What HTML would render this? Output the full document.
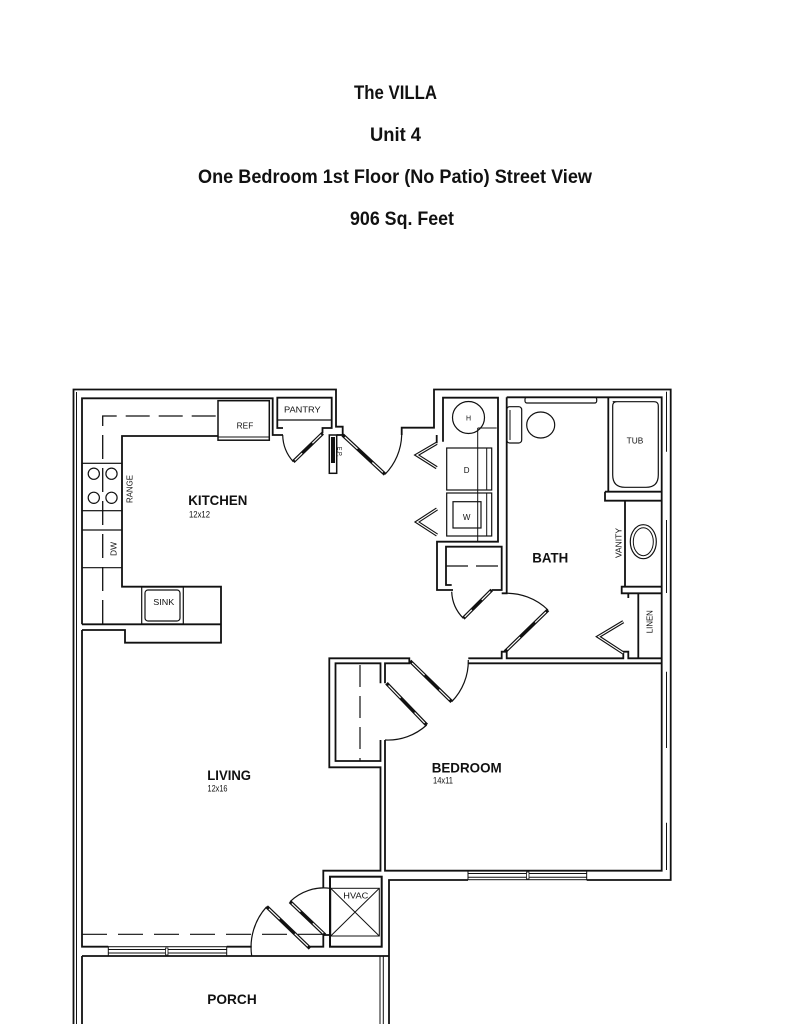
<!DOCTYPE html>
<html><head><meta charset="utf-8"><style>
html,body{margin:0;padding:0;background:#fff;}
svg{display:block;}
text{font-family:"Liberation Sans",sans-serif;fill:#111;}
</style></head><body>
<svg width="791" height="1024" viewBox="0 0 791 1024" xmlns="http://www.w3.org/2000/svg">
<rect width="791" height="1024" fill="#fff"/>
<!-- Titles -->
<text x="354" y="99" font-size="19" font-weight="bold" textLength="83" lengthAdjust="spacingAndGlyphs">The VILLA</text>
<text x="370" y="141" font-size="19" font-weight="bold" textLength="51" lengthAdjust="spacingAndGlyphs">Unit 4</text>
<text x="198" y="183" font-size="19" font-weight="bold" textLength="394" lengthAdjust="spacingAndGlyphs">One Bedroom 1st Floor (No Patio) Street View</text>
<text x="350" y="225" font-size="19" font-weight="bold" textLength="104" lengthAdjust="spacingAndGlyphs">906 Sq. Feet</text>

<g fill="none" stroke="#111" stroke-width="1.8" stroke-linejoin="miter">
<!-- exterior -->
<path d="M73.5,1024 V389.5 H336 V426.7 H342.7 V435"/>
<path d="M76.5,392 V1024" stroke-width="1"/>
<path d="M401.7,435 V427.7 H434 V389.5 H670.7 V880 H586.7"/>
<path d="M468,880 H389 V1024"/>
<path d="M666.5,391.7 V451.7 M666.5,520 V593 M666.5,671.7 V748 M666.5,822.7 V870" stroke-width="1"/>

<!-- kitchen -->
<path d="M82,624.3 V398.3 H272.7 V435 H283"/>
<path d="M82,630 H125 V642.7 H221 V586.7 H122 V436 H217.5"/>
<path d="M82,624.3 H221"/>
<path d="M102.7,624 V416 H217" stroke-width="1.3" stroke-dasharray="24 9"/>
<rect x="218" y="400.7" width="51.3" height="39.5" stroke-width="1.5"/>
<path d="M218,437 H269.3" stroke-width="1"/>
<rect x="82" y="463.3" width="40" height="47.4" stroke-width="1.2"/>
<circle cx="93.8" cy="473.7" r="5.6" stroke-width="1.2"/>
<circle cx="111.5" cy="473.7" r="5.6" stroke-width="1.2"/>
<circle cx="93.8" cy="497.8" r="5.6" stroke-width="1.2"/>
<circle cx="111.5" cy="497.8" r="5.6" stroke-width="1.2"/>
<path d="M82,530 H122 M82,567.7 H122" stroke-width="1.2"/>
<rect x="141.7" y="587" width="41.6" height="37" stroke-width="1.2"/>
<rect x="145" y="590" width="35" height="31" rx="3" stroke-width="1.2"/>

<!-- pantry / EP -->
<path d="M283,428 H277.3 V397.7 H331.7 V428 H322.5 V433.3"/>
<path d="M277.3,420 H331.7" stroke-width="1.2"/>
<path d="M336.7,435 H342.7"/>
<rect x="329.3" y="435" width="7.4" height="38.3" stroke-width="1.5"/>
<rect x="331" y="437" width="4" height="26" fill="#111" stroke="none"/>

<!-- laundry -->
<path d="M436.7,435 V443.3"/>
<path d="M443,441.7 V397.7 H498 V541.7 H437 V590 H453"/>
<circle cx="468.5" cy="417.5" r="16" stroke-width="1.2"/>
<path d="M477.7,428 V541.7 M477.7,428 H496.7" stroke-width="1"/>
<rect x="446.7" y="448" width="45" height="42" stroke-width="1.2"/>
<path d="M486.7,448 V490 M486.7,493 V536" stroke-width="1"/>
<rect x="446.7" y="493" width="45" height="43" stroke-width="1.2"/>
<rect x="453" y="501.7" width="28" height="26.3" stroke-width="1.2"/>

<!-- hall closet -->
<path d="M451.7,585 H446 V546.7 H501.7 V590 H491.7"/>
<path d="M446,566 H501.7" stroke-width="1.2" stroke-dasharray="22 8"/>

<!-- bath / bedroom -->
<path d="M506.7,397.3 V593.3 H501.7"/>
<path d="M506.7,397.3 H661.7 V870.7 H385 V740"/>
<path d="M385,683.3 V663.3 H409.3 V658.3 H329.3 V767.3 H380.5 V870.7 H323.3 V888.3"/>
<path d="M380.5,683.3 V663.3 H335.5 V761 H380.5 V740"/>
<path d="M360,665 V761" stroke-width="1.2" stroke-dasharray="22 9"/>
<path d="M468.3,663.3 H661.7"/>
<path d="M468.3,658.3 H501.7 V651.7 H506.7 V658.3 H623.3 V651.7 H628.3 V658.3 H661.7"/>
<path d="M608.3,397.3 V491.7 M605,491.7 H661.7 M605,491.7 V500.7 H661.7 M625,500.7 V586.7"/>
<path d="M661.7,586.7 H621.7 V593.3 H628.3 V598 M628.3,593.3 H661.7 M638.3,593.3 V658.3"/>
<rect x="525" y="397.3" width="71.7" height="5.7" rx="2" stroke-width="1.2"/>
<rect x="506.7" y="406.7" width="15" height="36.3" rx="3" stroke-width="1.2"/>
<path d="M510,410 V440" stroke-width="1"/>
<ellipse cx="540.7" cy="425" rx="14" ry="13" stroke-width="1.2"/>
<path d="M612.7,401.7 H654 Q658.3,401.7 658.3,406 V475 Q658.3,487.3 646,487.3 H625 Q612.7,487.3 612.7,475 V406 Q612.7,401.7 617,401.7 Z" stroke-width="1.2"/>
<ellipse cx="643.3" cy="541.7" rx="13" ry="17" stroke-width="1.2"/>
<ellipse cx="643.3" cy="541.7" rx="10" ry="14" stroke-width="1"/>

<!-- bedroom window -->
<rect x="468" y="870.7" width="118.7" height="9" stroke-width="1"/>
<path d="M468,873.5 H586.7 M468,877.3 H586.7" stroke-width="1"/>
<rect x="526.5" y="872" width="2.5" height="7" stroke-width="0.8" fill="#fff"/>

<!-- HVAC -->
<rect x="330" y="876.7" width="51.7" height="70" stroke-width="2"/>
<rect x="330.7" y="888.3" width="48.6" height="47.7" stroke-width="1"/>
<path d="M330.7,888.3 L379.3,936 M379.3,888.3 L330.7,936" stroke-width="1"/>
<path d="M380,956 V1024 M383.3,956 V1024" stroke-width="1"/>

<!-- living bottom / porch -->
<path d="M82,630 V946.7 H108.3"/>
<path d="M226.7,946.7 H251.7"/>
<path d="M310,946.7 H323.3 V935 H330"/>
<path d="M82,956 H389"/>
<path d="M82,956 V1024"/>
<rect x="108.3" y="946.7" width="118.4" height="9.3" stroke-width="1"/>
<path d="M108.3,949.5 H226.7 M108.3,953 H226.7" stroke-width="1"/>
<rect x="165.5" y="948" width="2.5" height="7" stroke-width="0.8" fill="#fff"/>
<path d="M82,934.3 H323.3" stroke-width="1.2" stroke-dasharray="25 11"/>

<!-- door arcs -->
<g stroke-width="1.2">
<path d="M282.7,435 A41,41 0 0 0 293.3,461.7"/>
<path d="M385,474.3 A58.5,58.5 0 0 0 401.7,435"/>
<path d="M451.7,591.7 A40,40 0 0 0 463.3,618.3"/>
<path d="M548,610 A59.5,59.5 0 0 0 503.3,593.3"/>
<path d="M451.7,701.7 A58,58 0 0 0 468.3,660"/>
<path d="M426.7,725 A57.5,57.5 0 0 1 385,740"/>
<path d="M290,901.7 A48.5,48.5 0 0 1 330,888.3"/>
<path d="M251.7,956 A60,60 0 0 1 266.7,906.7"/>
</g>
</g>

<!-- door panels -->
<g stroke="#111" stroke-width="3.6" stroke-linecap="butt">
<line x1="322.7" y1="433.3" x2="293.3" y2="461.7"/>
<line x1="342.7" y1="435" x2="385" y2="474.3"/>
<line x1="491.7" y1="590" x2="463.3" y2="618.3"/>
<line x1="505" y1="651.7" x2="548" y2="610"/>
<line x1="410" y1="661" x2="451.7" y2="701.7"/>
<line x1="386.5" y1="683.3" x2="426.7" y2="725"/>
<line x1="325" y1="935" x2="290" y2="901.7"/>
<line x1="310" y1="948.3" x2="266.7" y2="906.7"/>
</g>
<g stroke="#fff" stroke-width="1.2">
<line x1="321.2" y1="434.7" x2="312.4" y2="443.2"/><line x1="302.1" y1="453.2" x2="294.8" y2="460.3"/>
<line x1="344.8" y1="437" x2="357.5" y2="448.8"/><line x1="372.3" y1="462.5" x2="382.9" y2="472.3"/>
<line x1="490.3" y1="591.4" x2="481.8" y2="599.9"/><line x1="471.8" y1="609.8" x2="464.7" y2="616.9"/>
<line x1="507.2" y1="649.6" x2="520.1" y2="637.1"/><line x1="535.1" y1="622.5" x2="545.9" y2="612.1"/>
<line x1="412.1" y1="663" x2="424.6" y2="675.2"/><line x1="439.2" y1="689.5" x2="449.6" y2="699.7"/>
<line x1="388.5" y1="685.4" x2="400.6" y2="697.9"/><line x1="414.6" y1="712.5" x2="424.7" y2="723"/>
<line x1="323.3" y1="933.3" x2="312.8" y2="923.3"/><line x1="300.5" y1="911.7" x2="291.8" y2="903.4"/>
<line x1="307.8" y1="946.2" x2="294.8" y2="933.7"/><line x1="279.7" y1="919.2" x2="268.9" y2="908.8"/>
</g>
<!-- bifolds -->
<g fill="none" stroke-linejoin="miter">
<polyline points="436.7,443.3 416.7,455 436.7,467.7" stroke="#111" stroke-width="3.4"/>
<polyline points="436.7,443.3 416.7,455 436.7,467.7" stroke="#fff" stroke-width="1.1"/>
<polyline points="437,509 417,522 437,535" stroke="#111" stroke-width="3.4"/>
<polyline points="437,509 417,522 437,535" stroke="#fff" stroke-width="1.1"/>
<polyline points="623.3,621.7 598.3,636.7 623.3,653" stroke="#111" stroke-width="3.4"/>
<polyline points="623.3,621.7 598.3,636.7 623.3,653" stroke="#fff" stroke-width="1.1"/>
</g>

<!-- room labels -->
<g font-weight="bold" font-size="14">
<text x="188.3" y="505" textLength="59" lengthAdjust="spacingAndGlyphs">KITCHEN</text>
<text x="207.3" y="780" textLength="43.7" lengthAdjust="spacingAndGlyphs">LIVING</text>
<text x="431.7" y="772.7" textLength="70" lengthAdjust="spacingAndGlyphs">BEDROOM</text>
<text x="532.3" y="562.7" textLength="36" lengthAdjust="spacingAndGlyphs">BATH</text>
<text x="207.3" y="1004" textLength="49.4" lengthAdjust="spacingAndGlyphs">PORCH</text>
</g>
<g font-size="9">
<text x="189" y="517.5" textLength="21" lengthAdjust="spacingAndGlyphs">12x12</text>
<text x="207.5" y="791.3" textLength="20" lengthAdjust="spacingAndGlyphs">12x16</text>
<text x="433" y="783.3" textLength="20" lengthAdjust="spacingAndGlyphs">14x11</text>
</g>
<g font-size="8">
<text x="284" y="412.3" textLength="36.7" lengthAdjust="spacingAndGlyphs">PANTRY</text>
<text x="236.7" y="428.3" textLength="16.6" lengthAdjust="spacingAndGlyphs">REF</text>
<text x="153.3" y="605" textLength="21" lengthAdjust="spacingAndGlyphs">SINK</text>
<text x="626.7" y="443.3" textLength="16.6" lengthAdjust="spacingAndGlyphs">TUB</text>
<text x="343.3" y="898.3" textLength="25" lengthAdjust="spacingAndGlyphs">HVAC</text>
<text x="468.5" y="420.3" text-anchor="middle" font-size="7">H</text>
<text x="466.7" y="473" text-anchor="middle">D</text>
<text x="466.7" y="520" text-anchor="middle">W</text>
<text transform="translate(132.7,489) rotate(-90)" text-anchor="middle" textLength="28" lengthAdjust="spacingAndGlyphs">RANGE</text>
<text transform="translate(116.7,549) rotate(-90)" text-anchor="middle" textLength="14" lengthAdjust="spacingAndGlyphs">DW</text>
<text transform="translate(621.7,543) rotate(-90)" text-anchor="middle" textLength="30" lengthAdjust="spacingAndGlyphs">VANITY</text>
<text transform="translate(652.7,621.7) rotate(-90)" text-anchor="middle" textLength="23" lengthAdjust="spacingAndGlyphs">LINEN</text>
<text transform="translate(337.5,451.7) rotate(90)" text-anchor="middle" font-size="6" textLength="10" lengthAdjust="spacingAndGlyphs">E.P.</text>
</g>
</svg>
</body></html>
